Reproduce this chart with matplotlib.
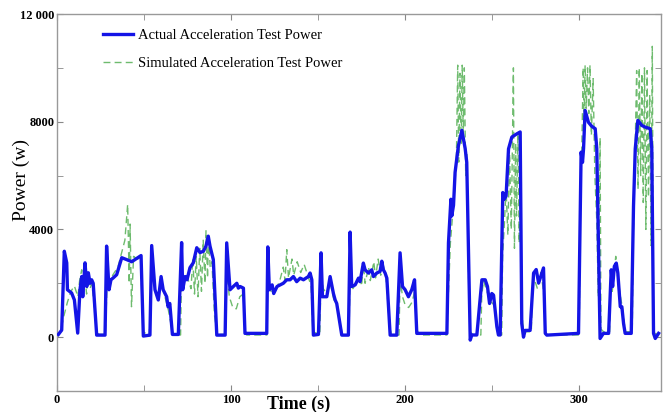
import matplotlib
matplotlib.use("Agg")
import matplotlib.pyplot as plt
from matplotlib.ticker import FixedLocator

# Actual acceleration test power (blue)
actual_t = [0.8, 2.7, 4.2, 5.6, 6.0, 8.4, 10.0, 11.9, 13.2, 14.2, 14.8, 16.1, 17.1, 18.0, 19.0, 19.9, 20.8,
            22.8, 27.6, 28.5, 29.9, 31.0, 32.3, 34.3, 37.2, 40.0, 42.9, 48.3, 49.6, 53.4,
            54.4, 56.3, 58.2, 59.8, 61.0, 63.0, 63.8, 64.8, 66.3, 69.7,
            71.6, 72.2, 73.6, 74.7, 76.4, 78.3, 80.3, 82.2, 84.1, 85.6, 86.9, 87.9, 88.8, 89.8, 91.8, 96.6,
            97.5, 99.4, 101.3, 103.3, 104.2, 105.2, 107.1, 108.0, 120.5,
            121.1, 122.0, 123.6, 124.5, 126.4, 128.2, 130.0, 132.0, 133.9, 135.8, 137.7, 139.7, 141.6, 144.4,
            145.4, 146.4, 147.3, 150.2,
            151.7, 152.5, 155.0, 156.9, 158.8, 159.8, 160.7, 163.6, 167.4,
            168.4, 169.3, 171.3, 173.2, 174.1, 176.0, 177.0, 178.9, 180.8, 181.8, 183.7, 185.6, 186.6, 187.5,
            188.5, 189.5, 191.4, 195.2,
            197.1, 198.5, 200.0, 201.9, 203.8, 205.4, 206.7, 217.2, 224.0,
            224.9, 226.3, 226.8, 227.8, 228.7, 230.6, 232.6, 234.5, 235.4, 237.4, 238.3, 241.2,
            244.1, 246.0, 247.3, 248.5, 249.8, 250.8, 252.7, 253.6, 254.6,
            256.1, 256.9, 258.0, 259.4, 261.3, 264.2, 266.1, 267.0, 268.0, 268.9, 271.8,
            273.8, 275.3, 276.7, 279.5, 280.5, 281.4, 299.6,
            301.1, 301.9, 302.5, 303.4, 305.3, 307.2, 309.2, 310.1, 312.0, 313.9, 316.9,
            318.4, 319.2, 320.2, 321.3, 322.2, 323.6, 324.5, 325.5, 326.4, 329.9,
            331.2, 332.2, 333.7, 336.0, 337.9, 340.8, 341.7, 342.7, 343.7, 345.6]
actual_p = [100, 260, 3190, 2760, 1760, 1640, 1380, 150, 1760, 2250, 1500, 2760, 1880, 2390, 2000, 2130, 2000,
            75, 75, 3380, 1760, 2130, 2200, 2320, 2950, 2880, 2800, 3030, 40, 75,
            3400, 1760, 1380, 2250, 1760, 1500, 1130, 1250, 100, 100,
            3510, 1760, 2250, 2130, 2580, 2760, 3320, 3140, 3190, 3380, 3750, 3380, 3140, 2880, 75, 75,
            3500, 1760, 1880, 2000, 1820, 1880, 1820, 140, 140,
            3350, 1760, 1940, 1620, 1880, 1940, 2000, 2130, 2130, 2250, 2060, 2190, 2130, 2250,
            2380, 2130, 75, 100,
            3130, 1500, 1500, 2250, 1620, 1380, 1250, 75, 75,
            3900, 1880, 1940, 2190, 2060, 2750, 2500, 2380, 2500, 2250, 2380, 2440, 2820, 2500,
            2380, 2190, 75, 75,
            3130, 1880, 1760, 1500, 1760, 2130, 140, 140, 140,
            3500, 5120, 4500, 4900, 6120, 7110, 7680, 7000, 6490, -110, 80, 80,
            2130, 2130, 1880, 1250, 1620, 1560, 390, 80, 80,
            5370, 5120, 5240, 6990, 7430, 7550, 7620, 510, 0, 250, 250,
            2380, 2510, 2010, 2570, 140, 75, 140,
            6870, 6490, 7000, 8420, 7980, 7830, 7740, 7000, -50, 140, 140,
            2500, 1880, 2630, 2750, 2380, 1130, 1130, 500, 140, 140,
            4870, 6990, 8050, 7860, 7800, 7740, 7000, 140, -50, 140]

# Simulated acceleration test power (green dashed)
sim_t = [0.0, 2.0, 4.0, 6.0, 8.0, 10.0, 12.0, 13.0, 14.2, 15.0, 16.0, 17.0, 18.0, 19.0, 20.0, 21.0, 22.5, 24.0,
         27.8, 28.8, 30.0, 32.0, 35.0, 37.0, 39.0, 40.6, 41.5, 42.0, 42.8, 44.0, 46.0, 48.0, 49.5, 53.0,
         54.4, 56.0, 58.0, 60.0, 62.0, 64.0, 66.0, 67.0, 71.0,
         71.6, 73.0, 75.0, 77.0, 78.0, 79.0, 80.0, 81.0, 82.0, 83.0, 84.0, 85.0, 85.6, 86.5, 87.0, 88.0, 89.0,
         90.5, 92.0, 96.8,
         97.5, 99.0, 101.0, 103.0, 105.0, 107.0, 108.0, 109.0, 120.6,
         121.0, 123.0, 126.0, 128.0, 130.0, 131.0, 132.0, 133.0, 135.0, 136.0, 138.0, 140.0, 142.0, 144.0,
         146.0, 147.0, 151.0,
         151.7, 153.0, 155.0, 157.0, 159.0, 161.0, 162.5, 164.0, 167.8,
         168.4, 170.0, 172.0, 174.0, 175.0, 176.0, 177.0, 179.0, 180.0, 182.0, 183.0, 184.5, 186.0, 187.0,
         189.0, 190.5, 192.0, 196.5,
         197.1, 198.5, 200.0, 202.0, 204.0, 205.5, 206.7, 208.0, 224.0,
         224.5, 226.0, 227.0, 228.5, 229.5, 230.2, 230.8, 231.5, 232.2, 232.8, 233.4, 234.0, 234.8, 235.5,
         236.5, 237.5, 239.0, 243.5,
         244.0, 245.0, 246.5, 248.0, 249.5, 251.0, 252.5, 254.0, 255.5,
         256.0, 257.0, 258.0, 259.0, 260.0, 261.0, 262.2, 262.8, 263.5, 264.0, 264.8, 265.5, 266.3, 267.0,
         268.0, 272.5,
         273.0, 274.0, 276.0, 278.0, 279.5, 280.5, 282.0, 300.0,
         300.5, 301.5, 302.3, 302.8, 303.4, 304.0, 304.8, 305.5, 306.2, 307.0, 308.0, 309.0, 310.0, 311.0,
         312.0, 312.5, 314.0, 317.5,
         318.0, 319.0, 321.0, 322.0, 323.5, 325.0, 326.5, 330.5,
         331.0, 332.0, 333.0, 333.8, 334.5, 335.3, 336.0, 336.8, 337.5, 338.3, 339.0, 339.8, 340.5, 341.3,
         342.0, 342.7, 343.5, 345.5]
sim_p = [0, 200, 800, 1300, 1700, 1900, 1500, 2100, 2500, 1700, 2300, 1600, 2200, 1800, 2000, 1400, 300, 100,
         100, 2000, 1800, 2300, 2600, 3100, 3600, 4930, 2000, 4200, 1130, 3000, 2900, 2900, 200, 50,
         2500, 1900, 1500, 2000, 1500, 1000, 300, 80, 80,
         2600, 2000, 2200, 1800, 2900, 1600, 3000, 1500, 3300, 1700, 3600, 2000, 3950, 2200, 3800, 2600, 2800,
         800, 100, 100,
         2500, 1500, 1100, 1050, 1500, 1600, 300, 80, 80,
         2000, 1700, 1800, 2100, 2600, 2100, 3250, 2200, 2900, 2300, 2800, 2400, 2700, 2300,
         1900, 200, 100,
         2300, 1800, 1600, 2000, 1400, 1200, 600, 80, 80,
         2600, 1800, 2000, 2300, 1900, 2700, 2000, 2600, 2100, 2800, 2200, 2900, 2300, 2800,
         2200, 900, 80, 80,
         2200, 1500, 1200, 1100, 1300, 1700, 300, 80, 80,
         1000, 3500, 4300, 5500, 6800, 10100, 6500, 9800, 7200, 10100, 7400, 10000, 6000, 6800,
         2000, 200, 80, 80,
         1500, 2100, 1800, 1500, 1300, 1200, 500, 80, 80,
         3000, 4200, 5500, 3800, 6800, 4000, 10000, 3300, 7200, 4500, 7600, 3500, 6000, 1000,
         200, 200,
         1500, 2200, 1800, 2400, 1700, 200, 80, 80,
         4000, 7000, 10000, 8000, 10100, 8500, 10000, 8300, 10100, 7500, 9600, 6000, 4500, 1500,
         7400, 300, 200, 200,
         2000, 1700, 3000, 2300, 1600, 1000, 200, 200,
         3500, 6500, 9900, 5500, 10000, 6000, 9800, 5000, 10000, 4000, 9900, 5200, 9000, 3400,
         10800, 300, 100, 200]

plt.rcParams["font.family"] = ["Liberation Serif", "DejaVu Serif"]

fig = plt.figure(figsize=(6.65, 4.12), dpi=100)
ax = fig.add_axes([0.0857, 0.051, 0.9083, 0.915])

sim_line, = ax.plot(sim_t, sim_p, color="#55b055", lw=1.0, ls=(0, (5, 3)), alpha=0.85,
                    label="Simulated Acceleration Test Power", zorder=2)
act_line, = ax.plot(actual_t, actual_p, color="#1414e6", lw=2.4,
                    label="Actual Acceleration Test Power", zorder=3)

ax.set_xlim(0, 347)
ax.set_ylim(-2000, 12000)
ax.xaxis.set_major_locator(FixedLocator([0, 100, 200, 300]))
ax.xaxis.set_minor_locator(FixedLocator([50, 150, 250]))
ax.yaxis.set_major_locator(FixedLocator([0, 4000, 8000, 12000]))
ax.yaxis.set_minor_locator(FixedLocator([2000, 6000, 10000]))
ax.set_yticklabels(["0", "4000", "8000", "12 000"])
ax.tick_params(which="both", direction="in", top=True, right=True, color="#888888",
               labelsize=9, pad=2, length=4)
for lab in ax.get_xticklabels() + ax.get_yticklabels():
    lab.set_fontweight("bold")
for s in ax.spines.values():
    s.set_color("#999999")
    s.set_linewidth(1.0)

ax.set_ylabel("Power (w)", fontsize=14)
ax.yaxis.set_label_coords(-0.045, 0.56)
ax.text(0.40, -0.036, "Time (s)", transform=ax.transAxes, fontsize=13,
        fontweight="bold", ha="center", va="center")

ax.legend([act_line, sim_line], [act_line.get_label(), sim_line.get_label()],
          loc="upper left", bbox_to_anchor=(0.055, 0.995), frameon=False,
          fontsize=10.5, handlelength=2.0, handletextpad=0.4, labelspacing=1.0)

fig.savefig("out.png", dpi=100)
